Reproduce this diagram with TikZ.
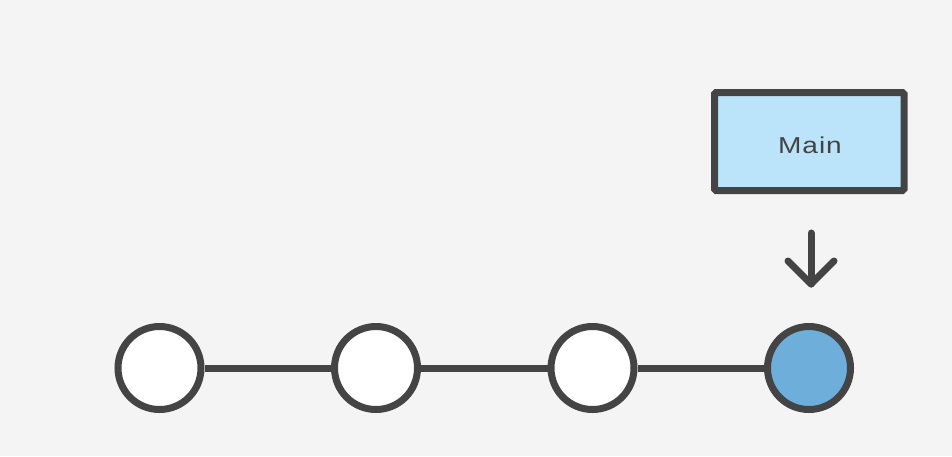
\documentclass[tikz,border=0pt]{standalone}
\usepackage{fontspec}
\usetikzlibrary{calc}
\setmainfont{Liberation Sans}
\newfontfamily\labelfont[LetterSpace=4,FakeStretch=1.22]{Liberation Sans}
\definecolor{bg}{HTML}{F4F4F4}
\definecolor{ink}{HTML}{444444}
\definecolor{boxfill}{HTML}{BBE3FA}
\definecolor{headfill}{HTML}{6DAEDB}
\tikzset{
  commit/.style={circle, draw=ink, line width=7pt, fill=white, minimum size=83pt, inner sep=0pt},
  head/.style={commit, fill=headfill},
  branchbox/.style={draw=ink, line width=7pt, fill=boxfill, minimum width=189.5pt, minimum height=98pt, inner sep=0pt, rounded corners=1.5pt},
  link/.style={draw=ink, line width=7pt},
  pointer/.style={draw=ink, line width=7pt, line cap=round, line join=round},
}
\begin{document}
\begin{tikzpicture}[x=1pt, y=-1pt]
\fill[bg] (0,0) rectangle (952,456);
\useasboundingbox (0,0) rectangle (952,456);
\node[commit] (c1) at (159.5,368) {};
\node[commit] (c2) at (376,368) {};
\node[commit] (c3) at (592.5,368) {};
\node[head] (c4) at (809,368) {};
\draw[link] (c1) -- (c2);
\draw[link] (c2) -- (c3);
\draw[link] (c3) -- (c4);
\node[branchbox] (main) at (809.25,141.5) {};
\node[text=ink, font=\labelfont\fontsize{23}{27}\selectfont, anchor=base, inner sep=0pt] (mainlabel) at (810,153.5) {Main};
\coordinate (atop) at (811,233);
\coordinate (atip) at (811,284);
\draw[pointer] (atop) -- (atip);
\draw[pointer] ($(atip)+(-23,-23)$) -- (atip) -- ($(atip)+(23,-23)$);
\end{tikzpicture}
\end{document}
